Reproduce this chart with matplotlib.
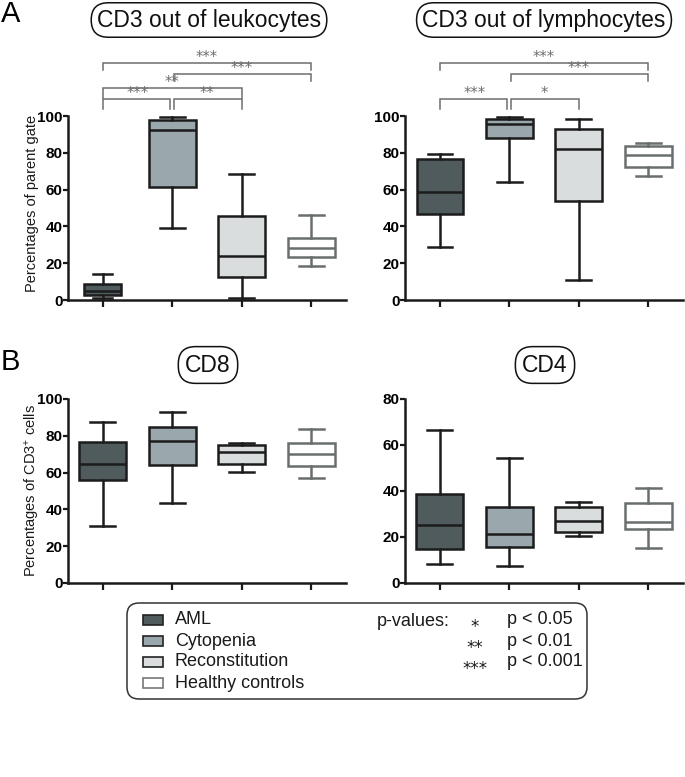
import matplotlib
matplotlib.use("Agg")
import matplotlib.pyplot as plt
from matplotlib.patches import FancyBboxPatch, Rectangle

plt.rcParams['font.family'] = ['Liberation Sans', 'DejaVu Sans']
plt.rcParams['mathtext.fontset'] = 'custom'
plt.rcParams['mathtext.rm'] = 'Liberation Sans'
plt.rcParams['mathtext.it'] = 'Liberation Sans'

# ---------------- data ----------------
groups = ["AML", "Cytopenia", "Reconstitution", "Healthy controls"]

# each: [whisker low, Q1, median, Q3, whisker high]
leuko_AML = [0.9, 2.7, 5.1, 8.5, 14.1]
leuko_Cyto = [39.3, 61.2, 92.2, 97.8, 99.5]
leuko_Recon = [1.3, 12.3, 24.1, 45.7, 68.5]
leuko_Healthy = [18.7, 23.4, 28.4, 33.7, 46.2]

lymph_AML = [29.0, 46.6, 58.5, 76.4, 79.3]
lymph_Cyto = [64.1, 87.9, 95.7, 98.6, 99.5]
lymph_Recon = [10.7, 53.8, 81.9, 93.1, 98.6]
lymph_Healthy = [67.4, 72.3, 79.0, 83.7, 85.3]

cd8_AML = [31.2, 56.0, 64.7, 76.6, 87.7]
cd8_Cyto = [43.5, 64.1, 77.0, 84.8, 92.8]
cd8_Recon = [60.5, 64.9, 71.0, 74.8, 76.3]
cd8_Healthy = [56.9, 63.8, 70.3, 76.1, 83.7]

cd4_AML = [8.2, 15.0, 25.3, 38.6, 66.4]
cd4_Cyto = [7.4, 15.7, 21.2, 33.2, 54.3]
cd4_Recon = [20.6, 22.2, 27.1, 32.9, 35.4]
cd4_Healthy = [15.3, 23.4, 26.6, 34.7, 41.2]

titles = ["CD3 out of leukocytes", "CD3 out of lymphocytes", "CD8", "CD4"]
ylabels = ["Percentages of parent gate", "Percentages of CD3$^{+}$ cells"]

# significance brackets: (group i, group j, label)
sig_leuko = [(0, 3, "***"), (1, 3, "***"), (0, 2, "**"), (0, 1, "***"), (1, 2, "**")]
sig_lymph = [(0, 3, "***"), (1, 3, "***"), (0, 1, "***"), (1, 2, "*")]

p_stars = ["*", "**", "***"]
p_texts = ["p < 0.05", "p < 0.01", "p < 0.001"]

# ---------------- style ----------------
fills = ["#4f5b5c", "#9aa7ac", "#d9dddd", "#ffffff"]
edges = ["#1c1c1c", "#1c1c1c", "#1c1c1c", "#6a6e6e"]
sig_color = "#6e6e6e"

W, H = 685, 777
fig = plt.figure(figsize=(W / 100, H / 100), dpi=100)
tr = fig.dpi_scale_trans


def P(x, y):
    return x / 100.0, (H - y) / 100.0


def ax_at(left, top, width, height):
    return fig.add_axes([left / W, 1 - (top + height) / H, width / W, height / H])


def draw_panel(ax, data, ymax, yticks, box_widths):
    for i, d in enumerate(data):
        lo, q1, med, q3, hi = d
        s = dict(whislo=lo, q1=q1, med=med, q3=q3, whishi=hi, fliers=[])
        ec = edges[i]
        ax.bxp([s], positions=[i], widths=box_widths[i], capwidths=box_widths[i] * 0.52,
               patch_artist=True, showfliers=False,
               boxprops=dict(facecolor=fills[i], edgecolor=ec, linewidth=1.8),
               medianprops=dict(color=ec, linewidth=1.8),
               whiskerprops=dict(color=ec, linewidth=1.8),
               capprops=dict(color=ec, linewidth=1.8),
               manage_ticks=False)
    ax.set_xlim(-0.5, 3.5)
    ax.set_ylim(0, ymax)
    ax.set_yticks(yticks)
    ax.set_xticks(range(4))
    ax.set_xticklabels([])
    for sp in ["top", "right"]:
        ax.spines[sp].set_visible(False)
    for sp in ["left", "bottom"]:
        ax.spines[sp].set_linewidth(1.8)
        ax.spines[sp].set_color("#1a1a1a")
    ax.tick_params(axis="y", length=3.5, width=1.6, pad=0.5, labelsize=11,
                   color="#1a1a1a")
    ax.tick_params(axis="x", length=5, width=1.6, color="#1a1a1a")
    for lab in ax.get_yticklabels():
        lab.set_fontweight("bold")
    ax.patch.set_alpha(0)


def draw_sig(ax, sigs, levels):
    for (i, j, lab), (yl, yd) in zip(sigs, levels):
        xi = i + (0.03 if i == 1 else 0.0)
        xj = j - (0.03 if (i, j) == (0, 1) else 0.0)
        ax.plot([xi, xi, xj, xj], [yd, yl, yl, yd], color=sig_color, lw=1.1,
                clip_on=False, solid_joinstyle="miter")
        ax.text((i + j) / 2, yl + 0.6, lab, ha="center", va="baseline",
                fontsize=10.5, color=sig_color, clip_on=False,
                family="DejaVu Sans")


# panel A left
axA1 = ax_at(68, 116, 278, 184)
draw_panel(axA1, [leuko_AML, leuko_Cyto, leuko_Recon, leuko_Healthy], 100,
           [0, 20, 40, 60, 80, 100], [0.53, 0.68, 0.68, 0.68])
draw_sig(axA1, sig_leuko, [(129, 125), (123, 119), (115, 110), (109, 104), (109, 104)])

# panel A right
axA2 = ax_at(405, 116, 278, 184)
draw_panel(axA2, [lymph_AML, lymph_Cyto, lymph_Recon, lymph_Healthy], 100,
           [0, 20, 40, 60, 80, 100], [0.66, 0.68, 0.68, 0.68])
draw_sig(axA2, sig_lymph, [(129, 125), (123, 119), (109, 104), (109, 104)])

# panel B left
axB1 = ax_at(68, 399, 278, 184)
draw_panel(axB1, [cd8_AML, cd8_Cyto, cd8_Recon, cd8_Healthy], 100,
           [0, 20, 40, 60, 80, 100], [0.68, 0.68, 0.68, 0.68])

# panel B right
axB2 = ax_at(405, 399, 278, 184)
draw_panel(axB2, [cd4_AML, cd4_Cyto, cd4_Recon, cd4_Healthy], 80,
           [0, 20, 40, 60, 80], [0.68, 0.68, 0.68, 0.68])

# y labels
fig.text(*P(32, 203), ylabels[0], transform=tr, rotation=90, ha="center",
         va="center", fontsize=10.5, color="#1a1a1a")
fig.text(*P(32, 490), ylabels[1], transform=tr, rotation=90, ha="center",
         va="center", fontsize=10.5, color="#1a1a1a")

# panel letters
fig.text(*P(1, 14), "A", transform=tr, ha="left", va="center", fontsize=21)
fig.text(*P(1, 362), "B", transform=tr, ha="left", va="center", fontsize=21)

# titles in rounded boxes
title_pos = [(209, 20), (544, 20), (208, 365), (545, 365)]
for t, (x, y) in zip(titles, title_pos):
    pad = 0.25 if len(t) > 4 else 0.3
    fig.text(*P(x, y), t, transform=tr, ha="center", va="center", fontsize=16.5,
             color="#111111",
             bbox=dict(boxstyle=f"round,pad={pad},rounding_size=0.75",
                       facecolor="white", edgecolor="#111111", linewidth=1.1))

# legend box
lx0, ly0, lx1, ly1 = 127, 603, 587, 699
box = FancyBboxPatch(P(lx0, ly1), (lx1 - lx0) / 100, (ly1 - ly0) / 100,
                     boxstyle="round,pad=0,rounding_size=0.12", transform=tr,
                     facecolor="white", edgecolor="#333333", linewidth=1.1)
fig.add_artist(box)

rows = [620, 641, 662, 683]
leg_edges = ["#222222", "#222222", "#222222", "#777777"]
for g, y, fc, ec in zip(groups, rows, fills, leg_edges):
    r = Rectangle(P(143, y + 5), 0.20, 0.10, transform=tr, facecolor=fc,
                  edgecolor=ec, linewidth=1.2)
    fig.add_artist(r)
    fig.text(*P(175, y), g, transform=tr, ha="left", va="center", fontsize=13,
             color="#1a1a1a")

fig.text(*P(377, 621), "p-values:", transform=tr, ha="left", va="center",
         fontsize=13, color="#1a1a1a")
for s, t, y in zip(p_stars, p_texts, rows[:3]):
    fig.text(*P(475, y + 12), s, transform=tr, ha="center", va="baseline",
             fontsize=12, color="#1a1a1a", family="DejaVu Sans")
    fig.text(*P(507, y), t, transform=tr, ha="left", va="center",
             fontsize=13, color="#1a1a1a")

fig.savefig("out.png", dpi=100, facecolor="white")
